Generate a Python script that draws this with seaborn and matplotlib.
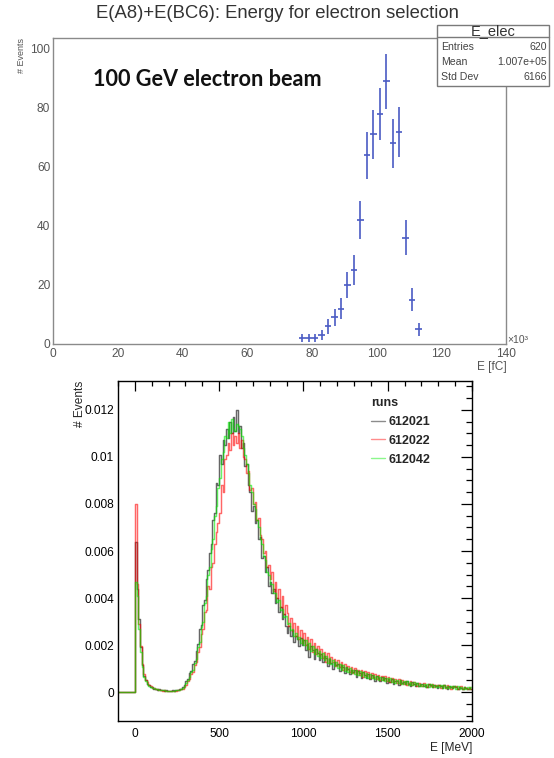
import numpy as np
import pandas as pd
import matplotlib
matplotlib.use("Agg")
import matplotlib.pyplot as plt
import seaborn as sns
from matplotlib.ticker import MultipleLocator, FuncFormatter
from matplotlib.patches import Rectangle
from matplotlib.lines import Line2D

sns.set_style("white")
plt.rcParams['font.family'] = ['Liberation Sans', 'DejaVu Sans']

# ---------------- top panel data (E in 10^3 fC, bin width 2) ----------------
top_title = "E(A8)+E(BC6): Energy for electron selection"
top_energy_k = [77, 79, 81, 83, 85, 87, 89, 91, 93, 95, 97, 99, 101, 103, 105, 107, 109, 111, 113]
top_counts = [2, 2, 2, 3, 6, 9, 12, 20, 25, 42, 64, 71, 78, 89, 68, 72, 36, 15, 5]
stat_name = "E_elec"
stat_rows = [("Entries", "620"), ("Mean", "1.007e+05"), ("Std Dev", "6166")]

# ---------------- bottom panel data (E in MeV, 10 MeV bins from -100 to 2000, units of 1e-4) ----------------
SCALE = 1e-4
runs = ["612021", "612022", "612042"]
run_612021 = [
    0, 0, 0, 0, 0, 0, 0, 0, 0, 0,
    64, 44, 31, 19, 11.5, 7, 5.2, 3.6, 3.1, 2.2,
    2.0, 1.5, 1.5, 1.0, 1.1, 0.7, 0.9, 0.6, 0.7, 0.4,
    0.6, 0.4, 0.8, 0.5, 0.9, 0.8, 1.3, 1.4, 2.1, 3.0,
    4.6, 5.6, 8.0, 8.8, 12.0, 13.2, 17.5, 20.5, 27, 28.5,
    37, 39, 48, 52, 59, 63, 73, 76, 89, 88,
    101, 97, 107, 105, 112, 108, 115, 110, 117, 111,
    120, 110, 113, 104, 106, 96, 97, 88, 85, 77,
    79, 72, 73, 65, 66, 57, 58, 51, 53, 45,
    47, 42, 44, 38, 40, 34, 36, 31, 33, 28,
    25, 28, 24, 26.5, 21.5, 24, 22.5, 19.5, 23, 20,
    22, 18, 20.5, 15, 19.5, 18, 14, 18.5, 16.5, 13.5,
    16, 13, 15.5, 14.5, 11, 14, 12.5, 10, 13, 11.5,
    12, 9, 11.5, 10.5, 8, 10.5, 9.8, 7.5, 9.5, 8.5,
    9.5, 6.5, 8.8, 8.0, 5.8, 8.4, 7.2, 6.0, 7.8, 5.6,
    7.2, 6.5, 4.8, 7.0, 5.9, 4.6, 6.6, 5.0, 6.0, 3.8,
    5.6, 4.2, 5.5, 3.6, 4.9, 4.6, 3.2, 5.0, 3.9, 4.4,
    3.4, 4.6, 3.6, 2.6, 4.2, 3.3, 2.7, 3.9, 2.5, 3.4,
    3.6, 2.4, 3.1, 2.2, 3.4, 2.9, 2.0, 3.0, 2.7, 1.9,
    2.8, 2.5, 1.7, 2.9, 2.2, 1.5, 2.6, 2.3, 1.6, 2.4,
    2.2, 1.3, 2.1, 1.8, 1.1, 2.0, 1.6, 1.2, 1.9, 1.4,
]
run_612022 = [
    0, 0, 0, 0, 0, 0, 0, 0, 0, 0,
    80, 46, 29, 19.5, 12, 7.5, 5, 4.2, 3.0, 2.6,
    1.8, 1.9, 1.2, 1.3, 0.9, 1.0, 0.6, 0.8, 0.5, 0.6,
    0.3, 0.5, 0.4, 0.6, 0.5, 0.7, 0.8, 1.1, 1.3, 2.1,
    3.0, 4.6, 5.5, 7.6, 8.6, 11.5, 12.8, 17, 19, 24.5,
    27, 34, 35, 45, 44, 53, 55, 63, 68, 72,
    76, 88, 85, 99, 101, 106, 103, 110, 105, 109,
    106, 110, 104, 107, 100, 99, 93, 94, 86, 87,
    80, 81, 73, 74, 67, 65, 59, 60, 53, 54,
    48, 51, 43, 47, 40, 44, 36, 41, 33, 37,
    33.5, 28, 31.5, 26, 29.5, 24, 28, 22.5, 26.5, 21,
    25, 20, 23.5, 18.5, 22.5, 17, 21, 16, 19.5, 15.5,
    18.5, 14.5, 17, 13, 16.5, 12.5, 15, 12.8, 14.2, 11,
    13.5, 10.5, 12.8, 9.6, 12, 9.2, 11.2, 8.6, 10.8, 8.0,
    10.4, 7.6, 9.6, 7.2, 9.2, 6.6, 8.8, 6.8, 8.4, 6.2,
    8.2, 5.8, 7.6, 5.6, 7.4, 5.2, 6.9, 5.0, 6.8, 4.6,
    6.4, 4.4, 6.0, 4.2, 5.6, 3.9, 5.4, 3.6, 5.2, 3.4,
    4.9, 3.2, 3.8, 4.6, 2.8, 4.4, 3.4, 2.6, 4.0, 3.1,
    2.6, 3.8, 3.0, 2.2, 3.5, 2.4, 3.3, 2.0, 3.2, 2.6,
    3.1, 1.8, 2.4, 3.0, 1.7, 2.8, 2.2, 1.5, 2.7, 2.0,
    2.5, 1.4, 2.0, 2.4, 1.3, 2.3, 1.6, 1.2, 2.2, 1.5,
]
run_612042 = [
    0, 0, 0, 0, 0, 0, 0, 0, 0, 0,
    47, 41, 27, 17, 10.5, 6.5, 4.6, 3.5, 2.7, 2.3,
    1.9, 1.6, 1.3, 1.2, 1.0, 0.9, 0.7, 0.7, 0.6, 0.5,
    0.5, 0.5, 0.5, 0.6, 0.7, 0.7, 0.9, 1.2, 1.7, 2.5,
    3.8, 5.3, 6.3, 8.4, 9.6, 12.5, 14.2, 19, 21.5, 27.5,
    30, 38, 41, 50, 53, 61, 65, 75, 79, 87,
    91, 99, 102, 109, 108, 115, 110, 116, 112, 111,
    114, 113, 112, 109, 104, 101, 97, 93, 88, 85,
    80, 78, 73, 70, 65, 63, 58, 56, 51, 50,
    46, 46, 42, 42, 38.5, 39, 35, 35.5, 32, 32.5,
    29, 29.5, 26.5, 27, 24, 25, 22.5, 23.5, 21, 22.5,
    20, 22, 18.5, 21, 17.5, 19.5, 16.2, 18.5, 15.5, 17.5,
    14.5, 16.5, 13.5, 15.5, 12.5, 14.5, 11.8, 13.8, 11, 12.8,
    10.2, 12, 9.6, 11.4, 9, 10.8, 8.5, 10.2, 8, 9.6,
    7.5, 9.2, 7.1, 8.8, 6.8, 8.4, 6.3, 8.0, 6.1, 7.6,
    5.8, 7.3, 5.5, 7.0, 5.3, 6.6, 5.0, 6.4, 4.7, 6.0,
    4.5, 5.8, 4.2, 5.5, 4.0, 5.2, 3.8, 5.0, 3.5, 4.7,
    3.4, 4.5, 3.2, 4.3, 2.9, 4.1, 2.8, 3.9, 2.6, 3.6,
    2.5, 3.5, 2.3, 3.4, 2.2, 3.3, 2.1, 3.2, 2.0, 3.0,
    2.0, 2.9, 1.8, 2.9, 1.7, 2.7, 1.6, 2.6, 1.6, 2.5,
    1.5, 2.4, 1.4, 2.3, 1.3, 2.2, 1.2, 2.1, 1.2, 2.0,
]
run_colors = ["#000000", "#ff0000", "#00ee00"]
bin_edges = np.arange(-100, 2001, 10)

# ---------------- figure ----------------
W, H = 554, 758
fig = plt.figure(figsize=(W / 100, H / 100), dpi=100)


def fax(l, t, r, b):
    return fig.add_axes([l / W, 1 - b / H, (r - l) / W, (b - t) / H])


# ===== top panel =====
ax1 = fax(53, 38, 506, 344)
blue = "#4a5bc4"
ax1.errorbar(top_energy_k, top_counts, xerr=1, yerr=np.sqrt(top_counts),
             fmt="none", ecolor=blue, elinewidth=1.2, capsize=0)
ax1.set_xlim(0, 140)
ax1.set_ylim(0, 103.7)
ax1.xaxis.set_major_locator(MultipleLocator(20))
ax1.xaxis.set_minor_locator(MultipleLocator(4))
ax1.yaxis.set_major_locator(MultipleLocator(20))
ax1.yaxis.set_minor_locator(MultipleLocator(5))
for s in ax1.spines.values():
    s.set_color("#8a8a8a")
    s.set_linewidth(1.0)
ax1.tick_params(which="both", direction="in", colors="#777777", labelcolor="#555555",
                labelsize=8.6, top=False, right=False, width=0.9)
ax1.tick_params(axis="y", which="major", length=9.5, pad=2)
ax1.tick_params(axis="y", which="minor", length=5)
ax1.tick_params(axis="x", which="major", length=6, pad=3)
ax1.tick_params(axis="x", which="minor", length=3)
ax1.set_xlabel("")
ax1.set_ylabel("")

fig.text(277.5 / W, 1 - 13 / H, top_title, ha="center", va="center", fontsize=13.3, color="#333333")
fig.text(93 / W, 1 - 80 / H, "100 GeV electron beam", ha="left", va="center",
         fontsize=15.6, fontweight="bold", family=["Lato", "DejaVu Sans"], color="#111111")
fig.text(22 / W, 1 - 38 / H, "# Events", rotation=90, ha="center", va="top",
         fontsize=6.5, color="#555555")
fig.text(507 / W, 1 - 367 / H, "E [fC]", ha="right", va="center", fontsize=8.6, color="#555555")
fig.text(507 / W, 1 - 340 / H, "×10³", ha="left", va="center", fontsize=7.5, color="#555555")

# stat box
fig.add_artist(Rectangle((437 / W, 1 - 86 / H), 112 / W, 61 / H, transform=fig.transFigure,
                         facecolor="white", edgecolor="#7a7a7a", linewidth=1.0, zorder=5))
fig.add_artist(Line2D([437 / W, 549 / W], [1 - 37 / H, 1 - 37 / H], transform=fig.transFigure,
                      color="#7a7a7a", linewidth=1.0, zorder=6))
fig.text(493 / W, 1 - 31 / H, stat_name, ha="center", va="center", fontsize=10.5,
         color="#333333", zorder=7)
for i, (k, v) in enumerate(stat_rows):
    y = 1 - (47 + 15 * i) / H
    fig.text(441 / W, y, k, ha="left", va="center", fontsize=7.6, color="#444444", zorder=7)
    fig.text(547 / W, y, v, ha="right", va="center", fontsize=7.6, color="#444444", zorder=7)

# ===== bottom panel =====
ax2 = fax(118, 381, 472, 721)
series = [run_612021, run_612022, run_612042]
for name, vals, col in zip(runs, series, run_colors):
    # step outline: one point per bin edge, the last bin value repeated at the closing edge
    yv = np.append(np.array(vals, dtype=float), vals[-1]) * SCALE
    df = pd.DataFrame({"E": bin_edges, "v": yv})
    sns.lineplot(data=df, x="E", y="v", estimator=None, sort=False, drawstyle="steps-post",
                 color=col, alpha=0.6, linewidth=1.05, ax=ax2)
ax2.set_xlim(-100, 2000)
ax2.set_ylim(-0.00123, 0.01323)
ax2.xaxis.set_major_locator(MultipleLocator(500))
ax2.xaxis.set_minor_locator(MultipleLocator(100))
ax2.yaxis.set_major_locator(MultipleLocator(0.002))
ax2.yaxis.set_minor_locator(MultipleLocator(0.0005))
ax2.yaxis.set_major_formatter(FuncFormatter(lambda v, p: f"{round(v, 6):g}"))
for s in ax2.spines.values():
    s.set_color("black")
    s.set_linewidth(1.0)
ax2.tick_params(which="both", direction="in", top=True, right=True, colors="black",
                labelsize=8.6, width=0.9)
ax2.tick_params(axis="y", which="major", length=8, pad=3)
ax2.tick_params(axis="y", which="minor", length=4)
ax2.tick_params(axis="x", which="major", length=7, pad=5)
ax2.tick_params(axis="x", which="minor", length=3.5)
ax2.set_xlabel("")
ax2.set_ylabel("")
fig.text(80 / W, 1 - 381 / H, "# Events", rotation=90, ha="center", va="top", fontsize=8.6)
fig.text(472 / W, 1 - 748 / H, "E [MeV]", ha="right", va="center", fontsize=8.6)

handles = [Line2D([], [], color=c, alpha=0.45, linewidth=1.0) for c in run_colors]
leg = ax2.legend(handles, runs, title="runs", loc="upper left",
                 bbox_to_anchor=(366 / W, 1 - 392 / H), bbox_transform=fig.transFigure,
                 frameon=False, handlelength=1.1, handletextpad=0.3, labelspacing=0.55,
                 prop={"weight": "bold", "size": 9}, alignment="left", borderaxespad=0)
leg.get_title().set_fontweight("bold")
leg.get_title().set_fontsize(9)

fig.savefig("out.png", dpi=100)
